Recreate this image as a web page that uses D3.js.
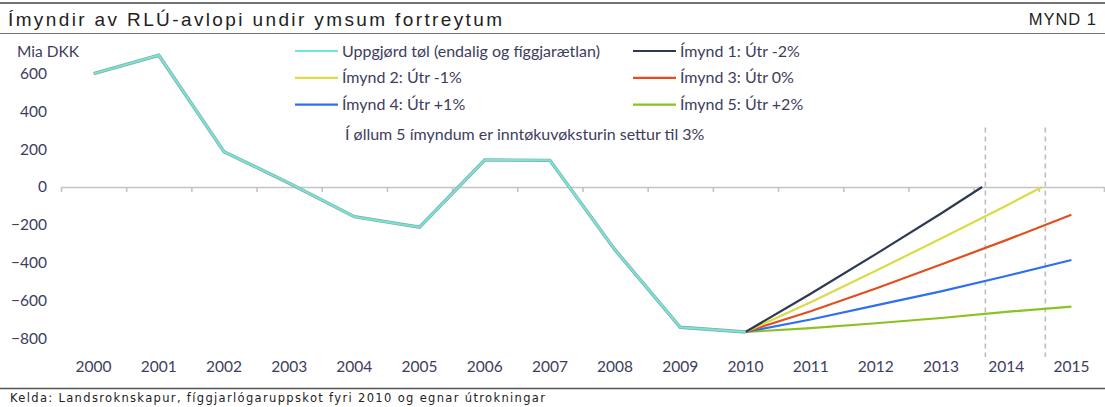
<!DOCTYPE html>
<html>
<head>
<meta charset="utf-8">
<script src="https://cdn.jsdelivr.net/npm/d3@7"></script>
<style>
  body { margin: 0; background: #fff; }
  text { font-family: Lato, "Open Sans", sans-serif; fill: #3d3d5c; }
</style>
</head>
<body>
<div id="chart"></div>
<script>
// data (Mia DKK)
var years = [2000, 2001, 2002, 2003, 2004, 2005, 2006, 2007, 2008, 2009, 2010, 2011, 2012, 2013, 2014, 2015];
var histYears = [2000, 2001, 2002, 2003, 2004, 2005, 2006, 2007, 2008, 2009, 2010];
var histValues = [600, 697, 187, 20, -157, -213, 143, 141, -333, -742, -767];

// scenarios start in 2010; 1 and 2 stop where they reach zero
var scen1Years = [2010, 2011, 2012, 2013, 2013.63];
var scen1 = [-767, -565, -355, -140, 0];
var scen2Years = [2010, 2011, 2012, 2013, 2014, 2014.55];
var scen2 = [-767, -610, -443, -273, -99, 0];
var scenYears = [2010, 2011, 2012, 2013, 2014, 2015];
var scen3 = [-767, -657, -537, -410, -281, -147];
var scen4 = [-767, -701, -626, -552, -471, -386];
var scen5 = [-767, -747, -721, -693, -661, -633];

var yTicks = [600, 400, 200, 0, -200, -400, -600, -800];
var markerYears = [2013.68, 2014.6];

var width = 1105, height = 407;

var svg = d3.select('#chart').append('svg')
  .attr('width', width)
  .attr('height', height);

// frame rules and title
svg.append('line').attr('x1', 0).attr('x2', width).attr('y1', 3).attr('y2', 3)
  .attr('stroke', '#444').attr('stroke-width', 1.5);
svg.append('line').attr('x1', 0).attr('x2', width).attr('y1', 33.5).attr('y2', 33.5)
  .attr('stroke', '#777').attr('stroke-width', 1.2);
svg.append('line').attr('x1', 0).attr('x2', width).attr('y1', 388.5).attr('y2', 388.5)
  .attr('stroke', '#555').attr('stroke-width', 1.5);

svg.append('text').attr('x', 8).attr('y', 25.5)
  .style('font-family', '"Liberation Sans", Arial, sans-serif').style('font-size', '19px').style('fill', '#222')
  .attr('textLength', 494).attr('lengthAdjust', 'spacing')
  .text('Ímyndir av RLÚ-avlopi undir ymsum fortreytum');
svg.append('text').attr('x', 1097).attr('y', 25).attr('text-anchor', 'end')
  .style('font-family', '"Liberation Sans", Arial, sans-serif').style('font-size', '16.5px').style('fill', '#222')
  .style('letter-spacing', '1px')
  .text('MYND 1');
svg.append('text').attr('x', 10).attr('y', 402)
  .style('font-family', '"DejaVu Sans", sans-serif').style('font-size', '11.5px').style('fill', '#222')
  .attr('textLength', 535).attr('lengthAdjust', 'spacing')
  .text('Kelda: Landsroknskapur, fíggjarlógaruppskot fyri 2010 og egnar útrokningar');

// scales
var x = d3.scaleLinear().domain([1999.5, 2015.5]).range([61, 1104]);
var y = d3.scaleLinear().domain([-800, 600]).range([338.2, 73.6]);

// y axis labels
var yAxis = d3.axisLeft(y).tickValues(yTicks).tickSize(0).tickPadding(0);
svg.append('g').attr('transform', 'translate(47,0)').call(yAxis)
  .call(function(g) { g.select('.domain').remove(); })
  .selectAll('text').style('font-size', '15.5px').style('font-family', 'Lato, sans-serif').attr('fill', '#3d3d5c');

svg.append('text').attr('x', 17).attr('y', 57).style('font-size', '15.5px').text('Mia DKK');

// x axis on the zero line, ticks between categories
var boundaries = d3.range(1999.5, 2016, 1);
var xAxis = d3.axisBottom(x).tickValues(boundaries).tickSize(5).tickSizeOuter(0).tickFormat('');
svg.append('g').attr('transform', 'translate(0,' + y(0) + ')').call(xAxis)
  .call(function(g) {
    g.select('.domain').attr('stroke', '#c4c4c4').attr('stroke-width', 1.6);
    g.selectAll('.tick line').attr('stroke', '#c4c4c4').attr('stroke-width', 1.6);
  });

svg.append('g').selectAll('text').data(years).enter().append('text')
  .attr('x', function(d) { return x(d); })
  .attr('y', 372)
  .attr('text-anchor', 'middle')
  .style('font-size', '15.5px')
  .text(function(d) { return d; });

// dashed markers where scenarios 1 and 2 reach zero
svg.append('g').selectAll('line').data(markerYears).enter().append('line')
  .attr('x1', function(d) { return x(d); })
  .attr('x2', function(d) { return x(d); })
  .attr('y1', y(315)).attr('y2', y(-900))
  .attr('stroke', '#bdbdbd').attr('stroke-width', 1.6).attr('stroke-dasharray', '5,4');

var line = d3.line()
  .x(function(d) { return x(d[0]); })
  .y(function(d) { return y(d[1]); });

function pairs(xs, vs) { return xs.map(function(d, i) { return [d, vs[i]]; }); }

var series = [
  { label: 'Ímynd 5: Útr +2%', years: scenYears, values: scen5, color: '#8cc21e' },
  { label: 'Ímynd 4: Útr +1%', years: scenYears, values: scen4, color: '#2f6ff0' },
  { label: 'Ímynd 3: Útr 0%', years: scenYears, values: scen3, color: '#e0501f' },
  { label: 'Ímynd 2: Útr -1%', years: scen2Years, values: scen2, color: '#d9dc46' },
  { label: 'Ímynd 1: Útr -2%', years: scen1Years, values: scen1, color: '#2e3a52' }
];

series.forEach(function(s) {
  svg.append('path').datum(pairs(s.years, s.values))
    .attr('d', line).attr('fill', 'none')
    .attr('stroke', s.color).attr('stroke-width', 2.2);
});

// historic line: cyan with thin grey edge
var hist = pairs(histYears, histValues);
svg.append('path').datum(hist).attr('d', line).attr('fill', 'none')
  .attr('stroke', '#8fa3a0').attr('stroke-width', 3.4).attr('stroke-linejoin', 'miter');
svg.append('path').datum(hist).attr('d', line).attr('fill', 'none')
  .attr('stroke', '#6ee8d8').attr('stroke-width', 2).attr('stroke-linejoin', 'miter');

// legend
var legendItems = [
  { label: 'Uppgjørd tøl (endalig og fíggjarætlan)', color: '#6ee8d8', col: 0, row: 0 },
  { label: 'Ímynd 1: Útr -2%', color: '#2e3a52', col: 1, row: 0 },
  { label: 'Ímynd 2: Útr -1%', color: '#d9dc46', col: 0, row: 1 },
  { label: 'Ímynd 3: Útr 0%', color: '#e0501f', col: 1, row: 1 },
  { label: 'Ímynd 4: Útr +1%', color: '#2f6ff0', col: 0, row: 2 },
  { label: 'Ímynd 5: Útr +2%', color: '#8cc21e', col: 1, row: 2 }
];
var legend = svg.selectAll('.legend').data(legendItems).enter().append('g')
  .attr('class', 'legend')
  .attr('transform', function(d) {
    return 'translate(' + (d.col ? 633 : 295) + ',' + (51 + d.row * 26.8) + ')';
  });
legend.append('line').attr('x1', 0).attr('x2', 43).attr('y1', 0).attr('y2', 0)
  .attr('stroke', function(d) { return d.color; }).attr('stroke-width', 2.2);
legend.append('text').attr('x', 47).attr('y', 5.5).style('font-size', '16px')
  .text(function(d) { return d.label; });

svg.append('text').attr('x', 345).attr('y', 140).style('font-size', '16px')
  .text('Í øllum 5 ímyndum er inntøkuvøksturin settur til 3%');
</script>
</body>
</html>
